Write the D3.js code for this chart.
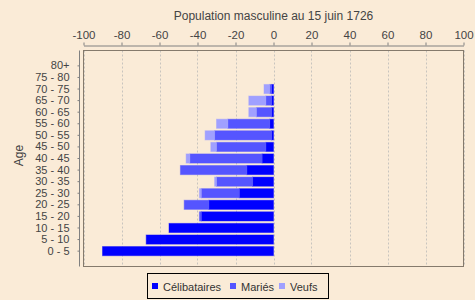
<!DOCTYPE html>
<html>
<head>
<meta charset="utf-8">
<script src="https://cdn.jsdelivr.net/npm/d3@7"></script>
<style>
  html, body { margin: 0; padding: 0; background: #FAEBD7; }
  svg { display: block; }
  text { font-family: "Liberation Sans", Arial, sans-serif; }
</style>
</head>
<body>
<svg id="chart" width="475" height="300"></svg>
<script>
const categories = ["0 - 5","5 - 10","10 - 15","15 - 20","20 - 25","25 - 30","30 - 35","35 - 40","40 - 45","45 - 50","50 - 55","55 - 60","60 - 65","65 - 70","70 - 75","75 - 80","80+"];
const celibataires = [90,67,55,38,34,18,11,14,6,4,1,2,1,1,1,0,0];
const maries       = [0,0,0,1,13,20,19,35,38,26,30,22,8,3,1,0,0];
const veufs        = [0,0,0,0,0,1,1,0,2,3,5,6,4,9,3,0,0];
const seriesNames  = ["Célibataires","Mariés","Veufs"];
const xTicks = [-100,-80,-60,-40,-20,0,20,40,60,80,100];
const chartTitle = "Population masculine au 15 juin 1726";
const yTitle = "Age";

const colors = ["#0000FF","#5555FF","#A0A0FF"];
const svg = d3.select("#chart");

const plot = {left: 83.5, right: 463.5, top: 50.5, bottom: 266.5};

svg.append("rect").attr("width",475).attr("height",300).attr("fill","#FAEBD7");

const x = d3.scaleLinear().domain([-100,100]).range([plot.left, plot.right]);
const h = plot.bottom - plot.top;
const y = d3.scaleBand()
  .domain(categories.slice().reverse())
  .range([plot.top + h*0.05, plot.bottom - h*0.05])
  .paddingInner(0.21).paddingOuter(0);

// plot background
svg.append("rect")
  .attr("x", plot.left).attr("y", plot.top)
  .attr("width", plot.right-plot.left).attr("height", plot.bottom-plot.top)
  .attr("fill","#FAEBD7");

// gridlines
svg.append("g").selectAll("line").data(xTicks).join("line")
  .attr("x1", d => Math.round(x(d))+0.5).attr("x2", d => Math.round(x(d))+0.5)
  .attr("y1", plot.top).attr("y2", plot.bottom)
  .attr("stroke","#c8c4be").attr("stroke-width",1).attr("stroke-dasharray","2,2");

// stacked data
const table = categories.map((c,i) => ({cat:c, "Célibataires": -celibataires[i], "Mariés": -maries[i], "Veufs": -veufs[i]}));
const stacked = d3.stack().keys(seriesNames).offset(d3.stackOffsetDiverging)(table);

svg.append("g").selectAll("g").data(stacked).join("g")
  .attr("fill", (d,i) => colors[i])
  .attr("stroke", (d,i) => colors[i])
  .attr("stroke-opacity", 0.45)
  .selectAll("rect").data(d => d.filter(p => p[1]-p[0] !== 0)).join("rect")
  .attr("x", d => x(Math.min(d[0],d[1])))
  .attr("width", d => Math.abs(x(d[1]) - x(d[0])))
  .attr("y", d => y(d.data.cat))
  .attr("height", y.bandwidth());

// plot outline
svg.append("rect")
  .attr("x", plot.left).attr("y", plot.top)
  .attr("width", plot.right-plot.left).attr("height", plot.bottom-plot.top)
  .attr("fill","none").attr("stroke","#857a6c").attr("stroke-width",1);

// top axis
const xAxis = d3.axisTop(x).tickValues(xTicks).tickSize(3).tickSizeOuter(0).tickPadding(4).tickFormat(d => String(d));
const gx = svg.append("g").attr("transform","translate(0,45.5)").call(xAxis);
gx.select(".domain").attr("stroke","#808080");
gx.selectAll(".tick line").attr("stroke","#808080");
gx.selectAll(".tick text").attr("fill","#444").attr("font-size","11.5px")
  .attr("font-family","'Liberation Sans', Arial, sans-serif");

// left axis
const yAxis = d3.axisLeft(y).tickSize(2).tickSizeOuter(0).tickPadding(8);
const gy = svg.append("g").attr("transform","translate(79.5,0)").call(yAxis);
gy.select(".domain").attr("stroke","#808080").attr("d", `M0,${plot.top}V${plot.bottom}`);
gy.selectAll(".tick line").attr("stroke","#808080");
gy.selectAll(".tick text").attr("fill","#444").attr("font-size","11px")
  .attr("font-family","'Liberation Sans', Arial, sans-serif");

// titles
svg.append("text").attr("x", (plot.left+plot.right)/2).attr("y", 20)
  .attr("text-anchor","middle").attr("font-size","12px").attr("fill","#444").text(chartTitle);
svg.append("text").attr("transform", `translate(23,${(plot.top+plot.bottom)/2 - 3}) rotate(-90)`)
  .attr("text-anchor","middle").attr("font-size","12px").attr("fill","#444").text(yTitle);

// legend
const lg = svg.append("g");
lg.append("rect").attr("x",147.5).attr("y",273.5).attr("width",181).attr("height",25)
  .attr("fill","#FAEBD7").attr("stroke","#000").attr("stroke-width",1);
const legendX = [152, 230, 279];
seriesNames.forEach((s,i) => {
  lg.append("rect").attr("x",legendX[i]).attr("y",283).attr("width",6).attr("height",6).attr("fill",colors[i]);
  lg.append("text").attr("x",legendX[i]+11).attr("y",290.5).attr("font-size","11px").attr("fill","#333").text(s);
});
</script>
</body>
</html>
